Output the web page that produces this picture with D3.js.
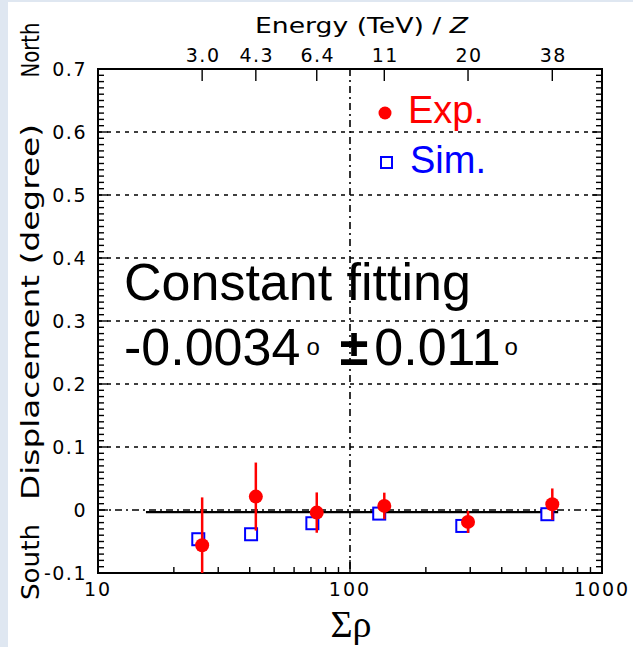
<!DOCTYPE html>
<html>
<head>
<meta charset="utf-8">
<script src="https://cdn.jsdelivr.net/npm/d3@7"></script>
<style>
    html, body { margin: 0; padding: 0; background: #fff; }
    svg { display: block; }
    text { font-family: 'DejaVu Sans', 'Liberation Sans', sans-serif; fill: #000; }
</style>
</head>
<body>
<script>
//data
var expRho = [25.9, 42.3, 73.8, 136.8, 294, 635];
var expVal = [-0.056, 0.0213, -0.0041, 0.0065, -0.0189, 0.0092];
var expErr = [0.076, 0.054, 0.032, 0.021, 0.0175, 0.025];

var simRho = [25.0, 40.5, 70.9, 130.6, 279, 607];
var simVal = [-0.0464, -0.0385, -0.021, -0.0057, -0.0253, -0.0067];
var simErr = [0.008, 0.004, 0.004, 0.004, 0.004, 0.008];

//top axis: energy per charge at each rho point
var energyRho = [25.9, 42.3, 73.8, 136.8, 294, 635];
var energyLabels = ['3.0', '4.3', '6.4', '11', '20', '38'];

var yTicks = [-0.1, 0, 0.1, 0.2, 0.3, 0.4, 0.5, 0.6, 0.7];
var yGrid = [0, 0.1, 0.2, 0.3, 0.4, 0.5, 0.6];
var xTicks = [10, 100, 1000];

var fitValue = -0.0034;
var fitErr = 0.011;
var fitRange = [15.5, 670];

var W = 633, H = 647;
var M = { left: 98, right: 602, top: 69, bottom: 573 };

var x = d3.scaleLog().domain([10, 1000]).range([M.left, M.right]);
var y = d3.scaleLinear().domain([-0.1, 0.7]).range([M.bottom, M.top]);

var svg = d3.select('body').append('svg')
    .attr('width', W)
    .attr('height', H);

//slide border
svg.append('rect').attr('x', 0).attr('y', 0).attr('width', W).attr('height', H)
    .attr('fill', '#dfe7f1');
svg.append('rect').attr('x', 8).attr('y', 2).attr('width', W - 8).attr('height', H - 2)
    .attr('fill', '#fff');

svg.append('clipPath').attr('id', 'plot-clip')
    .append('rect')
    .attr('x', M.left).attr('y', M.top)
    .attr('width', M.right - M.left).attr('height', M.bottom - M.top);

//grid
svg.append('g').selectAll('line')
    .data(yGrid)
    .enter().append('line')
    .attr('x1', M.left).attr('x2', M.right)
    .attr('y1', function (d) { return y(d); })
    .attr('y2', function (d) { return y(d); })
    .attr('stroke', '#000')
    .attr('stroke-width', 1.6)
    .attr('stroke-dasharray', function (d) { return d === 0 ? '7,4,2,4' : '4,5'; });

svg.append('line')
    .attr('x1', x(100)).attr('x2', x(100))
    .attr('y1', M.top).attr('y2', M.bottom)
    .attr('stroke', '#000')
    .attr('stroke-width', 1.6)
    .attr('stroke-dasharray', '7,4,2,4');

//constant fit
svg.append('line')
    .attr('x1', x(fitRange[0])).attr('x2', x(fitRange[1]))
    .attr('y1', y(fitValue)).attr('y2', y(fitValue))
    .attr('stroke', '#000')
    .attr('stroke-width', 2.2);

//minor ticks, left & right
var yMinor = d3.range(-100, 701, 10).map(function (d) { return d / 1000; });
var tickG = svg.append('g').attr('stroke', '#000').attr('stroke-width', 1.4);
yMinor.forEach(function (d) {
    var len = Math.abs(Math.round(d * 1000) % 100) === 0 ? 10 : 6;
    tickG.append('line').attr('x1', M.left).attr('x2', M.left + len)
        .attr('y1', y(d)).attr('y2', y(d));
    tickG.append('line').attr('x1', M.right).attr('x2', M.right - len)
        .attr('y1', y(d)).attr('y2', y(d));
});

//log ticks, bottom
var xMinor = [20, 30, 40, 50, 60, 70, 80, 90, 100, 200, 300, 400, 500, 600, 700, 800, 900];
xMinor.forEach(function (d) {
    var len = d === 100 ? 13 : 6;
    tickG.append('line').attr('x1', x(d)).attr('x2', x(d))
        .attr('y1', M.bottom).attr('y2', M.bottom - len);
});

//energy ticks, top
energyRho.forEach(function (d) {
    tickG.append('line').attr('x1', x(d)).attr('x2', x(d))
        .attr('y1', M.top).attr('y2', M.top + 12);
});

//frame
svg.append('rect')
    .attr('x', M.left).attr('y', M.top)
    .attr('width', M.right - M.left).attr('height', M.bottom - M.top)
    .attr('fill', 'none')
    .attr('stroke', '#000')
    .attr('stroke-width', 2);

//axis labels
svg.append('g').selectAll('text')
    .data(yTicks)
    .enter().append('text')
    .attr('x', 87)
    .attr('y', function (d) { return y(d) + 7; })
    .attr('text-anchor', 'end')
    .attr('font-size', 19)
    .attr('letter-spacing', 1.5)
    .text(function (d) { return d === 0 ? '0' : d3.format('.1f')(d).replace('\u2212', '-'); });

svg.append('g').selectAll('text')
    .data(xTicks)
    .enter().append('text')
    .attr('x', function (d) { return x(d); })
    .attr('y', 596)
    .attr('text-anchor', 'middle')
    .attr('font-size', 19)
    .attr('letter-spacing', 2)
    .text(function (d) { return d; });

svg.append('g').selectAll('text')
    .data(energyLabels)
    .enter().append('text')
    .attr('x', function (d, i) { return x(energyRho[i]) + 1; })
    .attr('y', 62)
    .attr('text-anchor', 'middle')
    .attr('font-size', 19)
    .attr('letter-spacing', 1.5)
    .text(function (d) { return d; });

var title = svg.append('text')
    .attr('x', 255)
    .attr('y', 33)
    .attr('font-size', 22)
    .attr('textLength', 213)
    .attr('lengthAdjust', 'spacingAndGlyphs');
title.append('tspan').text('Energy  (TeV) / ');
title.append('tspan').attr('font-style', 'italic').text('Z');

svg.append('text')
    .attr('x', 351)
    .attr('y', 637)
    .attr('text-anchor', 'middle')
    .attr('font-size', 38)
    .style('font-family', "'Liberation Serif', 'DejaVu Serif', serif")
    .text('\u03a3\u03c1');

//rotated side labels
var side = [
    { t: 'North', c: 50, len: 55 },
    { t: 'Displacement (degree)', c: 312, len: 376 },
    { t: 'South', c: 562, len: 76 }
];
svg.append('g').selectAll('text')
    .data(side)
    .enter().append('text')
    .attr('transform', function (d) { return 'translate(39,' + d.c + ') rotate(-90)'; })
    .attr('text-anchor', 'middle')
    .attr('font-size', 24)
    .attr('textLength', function (d) { return d.len; })
    .attr('lengthAdjust', 'spacingAndGlyphs')
    .text(function (d) { return d.t; });

//data
var plot = svg.append('g').attr('clip-path', 'url(#plot-clip)');

plot.append('g').selectAll('line')
    .data(simRho)
    .enter().append('line')
    .attr('x1', function (d) { return x(d); })
    .attr('x2', function (d) { return x(d); })
    .attr('y1', function (d, i) { return y(simVal[i] - simErr[i]); })
    .attr('y2', function (d, i) { return y(simVal[i] + simErr[i]); })
    .attr('stroke', '#111')
    .attr('stroke-width', 1.5);

plot.append('g').selectAll('rect')
    .data(simRho)
    .enter().append('rect')
    .attr('x', function (d) { return x(d) - 6; })
    .attr('y', function (d, i) { return y(simVal[i]) - 6; })
    .attr('width', 12)
    .attr('height', 12)
    .attr('fill', '#fff')
    .attr('stroke', '#0000ff')
    .attr('stroke-width', 2);

plot.append('g').selectAll('line')
    .data(expRho)
    .enter().append('line')
    .attr('x1', function (d) { return x(d); })
    .attr('x2', function (d) { return x(d); })
    .attr('y1', function (d, i) { return y(expVal[i] - expErr[i]); })
    .attr('y2', function (d, i) { return y(expVal[i] + expErr[i]); })
    .attr('stroke', '#ff0000')
    .attr('stroke-width', 2.5);

plot.append('g').selectAll('circle')
    .data(expRho)
    .enter().append('circle')
    .attr('cx', function (d) { return x(d); })
    .attr('cy', function (d, i) { return y(expVal[i]); })
    .attr('r', 7)
    .attr('fill', '#ff0000');

//legend
var sans = "'Liberation Sans', Arial, sans-serif";
svg.append('circle').attr('cx', 385).attr('cy', 113).attr('r', 6.5).attr('fill', '#ff0000');
svg.append('text').attr('x', 408).attr('y', 123)
    .attr('font-size', 38)
    .style('font-family', sans)
    .style('fill', '#ff0000')
    .text('Exp.');
svg.append('rect').attr('x', 381).attr('y', 157).attr('width', 11).attr('height', 11)
    .attr('fill', '#fff').attr('stroke', '#0000ff').attr('stroke-width', 2);
svg.append('text').attr('x', 410).attr('y', 173)
    .attr('font-size', 38)
    .style('font-family', sans)
    .style('fill', '#0000ff')
    .text('Sim.');

//fit result
svg.append('text').attr('x', 124).attr('y', 300)
    .attr('font-size', 52)
    .style('font-family', sans)
    .text('Constant fitting');

var fitText = svg.append('text').attr('x', 124).attr('y', 365)
    .attr('font-size', 52)
    .style('font-family', sans);
fitText.append('tspan').text(d3.format('.4f')(fitValue).replace('\u2212', '-'));
fitText.append('tspan').attr('font-size', 24).attr('dx', 6).attr('dy', -10).text('o');
fitText.append('tspan').attr('dx', 20).attr('dy', 10).attr('font-weight', 'bold').text('\u00b1');
fitText.append('tspan').attr('dx', 6).text(d3.format('.3f')(fitErr));
fitText.append('tspan').attr('font-size', 24).attr('dx', 4).attr('dy', -10).text('o');
</script>
</body>
</html>
